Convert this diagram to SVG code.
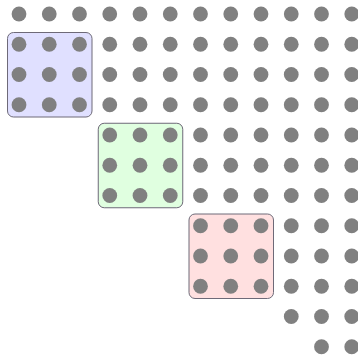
<svg xmlns="http://www.w3.org/2000/svg" width="358" height="356" viewBox="0 0 358 356">
<style>
.blk{stroke:#6e6a78;stroke-width:1}
.d{fill:#808080}
</style>
<defs><circle id="c" r="7.4" class="d"/></defs>
<rect width="358" height="356" fill="#ffffff"/>
<g id="block1"><rect class="blk" x="7.5" y="32.5" width="84.5" height="84.5" rx="6" fill="#e0e0ff"/></g>
<g id="block2"><rect class="blk" x="98.25" y="123.25" width="84.5" height="84.5" rx="6" fill="#e0ffe0"/></g>
<g id="block3"><rect class="blk" x="189" y="214" width="84.5" height="84.5" rx="6" fill="#ffe0e0"/></g>
<g id="dots">
<!-- row 0-3: cols 0..11 -->
<g id="r0" transform="translate(0,14)">
<use href="#c" x="19"/><use href="#c" x="49.25"/><use href="#c" x="79.5"/><use href="#c" x="109.75"/><use href="#c" x="140"/><use href="#c" x="170.25"/><use href="#c" x="200.5"/><use href="#c" x="230.75"/><use href="#c" x="261"/><use href="#c" x="291.25"/><use href="#c" x="321.5"/><use href="#c" x="351.75"/>
</g>
<g id="r1" transform="translate(0,44.25)">
<use href="#c" x="19"/><use href="#c" x="49.25"/><use href="#c" x="79.5"/><use href="#c" x="109.75"/><use href="#c" x="140"/><use href="#c" x="170.25"/><use href="#c" x="200.5"/><use href="#c" x="230.75"/><use href="#c" x="261"/><use href="#c" x="291.25"/><use href="#c" x="321.5"/><use href="#c" x="351.75"/>
</g>
<g id="r2" transform="translate(0,74.5)">
<use href="#c" x="19"/><use href="#c" x="49.25"/><use href="#c" x="79.5"/><use href="#c" x="109.75"/><use href="#c" x="140"/><use href="#c" x="170.25"/><use href="#c" x="200.5"/><use href="#c" x="230.75"/><use href="#c" x="261"/><use href="#c" x="291.25"/><use href="#c" x="321.5"/><use href="#c" x="351.75"/>
</g>
<g id="r3" transform="translate(0,104.75)">
<use href="#c" x="19"/><use href="#c" x="49.25"/><use href="#c" x="79.5"/><use href="#c" x="109.75"/><use href="#c" x="140"/><use href="#c" x="170.25"/><use href="#c" x="200.5"/><use href="#c" x="230.75"/><use href="#c" x="261"/><use href="#c" x="291.25"/><use href="#c" x="321.5"/><use href="#c" x="351.75"/>
</g>
<g id="r4" transform="translate(0,135)">
<use href="#c" x="109.75"/><use href="#c" x="140"/><use href="#c" x="170.25"/><use href="#c" x="200.5"/><use href="#c" x="230.75"/><use href="#c" x="261"/><use href="#c" x="291.25"/><use href="#c" x="321.5"/><use href="#c" x="351.75"/>
</g>
<g id="r5" transform="translate(0,165.25)">
<use href="#c" x="109.75"/><use href="#c" x="140"/><use href="#c" x="170.25"/><use href="#c" x="200.5"/><use href="#c" x="230.75"/><use href="#c" x="261"/><use href="#c" x="291.25"/><use href="#c" x="321.5"/><use href="#c" x="351.75"/>
</g>
<g id="r6" transform="translate(0,195.5)">
<use href="#c" x="109.75"/><use href="#c" x="140"/><use href="#c" x="170.25"/><use href="#c" x="200.5"/><use href="#c" x="230.75"/><use href="#c" x="261"/><use href="#c" x="291.25"/><use href="#c" x="321.5"/><use href="#c" x="351.75"/>
</g>
<g id="r7" transform="translate(0,225.75)">
<use href="#c" x="200.5"/><use href="#c" x="230.75"/><use href="#c" x="261"/><use href="#c" x="291.25"/><use href="#c" x="321.5"/><use href="#c" x="351.75"/>
</g>
<g id="r8" transform="translate(0,256)">
<use href="#c" x="200.5"/><use href="#c" x="230.75"/><use href="#c" x="261"/><use href="#c" x="291.25"/><use href="#c" x="321.5"/><use href="#c" x="351.75"/>
</g>
<g id="r9" transform="translate(0,286.25)">
<use href="#c" x="200.5"/><use href="#c" x="230.75"/><use href="#c" x="261"/><use href="#c" x="291.25"/><use href="#c" x="321.5"/><use href="#c" x="351.75"/>
</g>
<g id="r10" transform="translate(0,316.5)">
<use href="#c" x="291.25"/><use href="#c" x="321.5"/><use href="#c" x="351.75"/>
</g>
<g id="r11" transform="translate(0,346.75)">
<use href="#c" x="321.5"/><use href="#c" x="351.75"/>
</g>
</g>
</svg>
